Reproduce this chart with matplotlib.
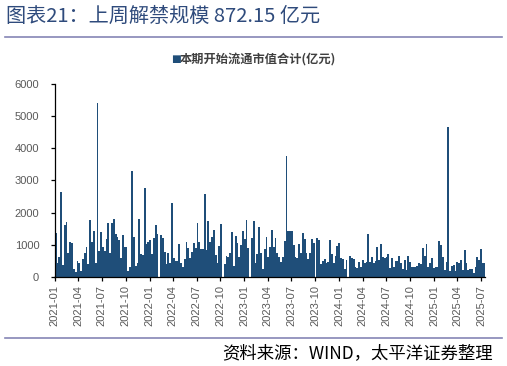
import numpy as np
import pandas as pd
import matplotlib
matplotlib.use("Agg")
import matplotlib.pyplot as plt
import matplotlib.dates as mdates
from matplotlib.lines import Line2D

plt.rcParams['font.family'] = ['Noto Sans CJK SC', 'DejaVu Sans']

# Weekly values (100 million yuan)
values_2021_2022 = [
    1360, 420, 630, 2630, 370, 1620, 1700, 740, 1090, 1070,
    250, 170, 500, 450, 190, 550, 740, 920, 400, 1770,
    1080, 1440, 420, 5400, 810, 1390, 940, 810, 1190, 1680,
    740, 1690, 1800, 1340, 1250, 1150, 580, 1300, 920, 940,
    190, 320, 3290, 1250, 340, 420, 1790, 730, 690, 2780,
    1030, 1090, 1150, 720, 1220, 1630, 1340, 0, 1300, 1210,
    790, 400, 740, 420, 2300, 580, 500, 500, 1020, 440,
    320, 550, 1100, 890, 600, 770, 1050, 910, 1680, 1100,
    880, 860, 2580, 840, 1750,
]
values_2022_2024 = [
    1080, 1250, 1460, 680, 450, 960, 1650, 0, 390, 650,
    630, 740, 1390, 340, 1280, 1070, 610, 990, 1440, 1170,
    1770, 910, 0, 1200, 1750, 420, 700, 1550, 760, 250,
    860, 1250, 630, 940, 1460, 920, 1200, 760, 610, 480,
    630, 1130, 3760, 1440, 1440, 1440, 990, 630, 600, 1040,
    760, 1380, 1180, 740, 550, 760, 1190, 1070, 0, 1220,
    1150, 410, 490, 570, 420, 470, 1140, 700, 420, 650,
    960, 1070, 600, 550, 250, 530, 0, 640, 600, 570,
    320, 270, 460, 300, 530, 420, 480, 1340,
]
values_2024_2025 = [
    460, 630, 420, 510, 920, 530, 1030, 630, 600, 630,
    700, 270, 580, 300, 500, 510, 660, 420, 250, 530,
    220, 650, 460, 320, 320, 320, 340, 450, 400, 910,
    660, 1030, 320, 420, 600, 290, 320, 320, 1110, 1000,
    630, 220, 460, 4650, 190, 330, 380, 180, 460, 450,
    530, 210, 840, 450, 220, 240, 240, 130, 310, 630,
    530, 860, 420, 420,
]
values = values_2021_2022 + values_2022_2024 + values_2024_2025
weeks = pd.date_range("2021-01-01", periods=len(values), freq="7D")

title = "图表21：上周解禁规模 872.15 亿元"
legend_label = "本期开始流通市值合计(亿元)"
source = "资料来源：WIND，太平洋证券整理"

W, H = 507, 366
fig = plt.figure(figsize=(W / 100, H / 100), dpi=100)
ax = fig.add_axes([54.5 / W, 1 - 277 / H, 431 / W, 193 / H])

bar_color = "#1F4E79"
ax.bar(weeks, values, width=7, align="edge", color=bar_color, linewidth=0)

ax.set_ylim(0, 6000)
ax.set_yticks(np.arange(0, 6001, 1000))
ax.set_xlim(pd.Timestamp("2020-12-31"), weeks[-1] + pd.Timedelta(days=7))
ax.xaxis.set_major_locator(mdates.MonthLocator(bymonth=[1, 4, 7, 10]))
ax.xaxis.set_major_formatter(mdates.DateFormatter("%Y-%m"))

for s in ["top", "right"]:
    ax.spines[s].set_visible(False)
for s in ["left", "bottom"]:
    ax.spines[s].set_color("black")
    ax.spines[s].set_linewidth(0.9)

ax.tick_params(axis="both", direction="out", length=3, width=0.9, color="black")
ax.tick_params(axis="y", pad=8, labelsize=8, labelcolor="#595959")
ax.tick_params(axis="x", pad=3, labelsize=8, labelcolor="#595959", rotation=90)
for lab in ax.get_xticklabels() + ax.get_yticklabels():
    lab.set_family(["Liberation Sans", "DejaVu Sans"])

# title and rules
fig.text(6 / W, 1 - 16 / H, title, fontsize=14.5, color="#2F4B7C", va="center", ha="left")
fig.add_artist(Line2D([5 / W, 502 / W], [1 - 37 / H, 1 - 37 / H], color="#8585B5", linewidth=1.2))
fig.add_artist(Line2D([5 / W, 502 / W], [1 - 338 / H, 1 - 338 / H], color="#8585B5", linewidth=1.2))

# legend
fig.text(171 / W, 1 - 59 / H, "■", fontsize=7.5, color=bar_color, va="center", ha="left",
         family=["DejaVu Sans"])
fig.text(180 / W, 1 - 59 / H, legend_label, fontsize=8.8, color="#404040",
         va="center", ha="left", fontweight="bold")

# source
fig.text(493 / W, 1 - 353 / H, source, fontsize=12.5, color="black", va="center", ha="right",
         style="italic")

fig.savefig("out.png", dpi=100)
